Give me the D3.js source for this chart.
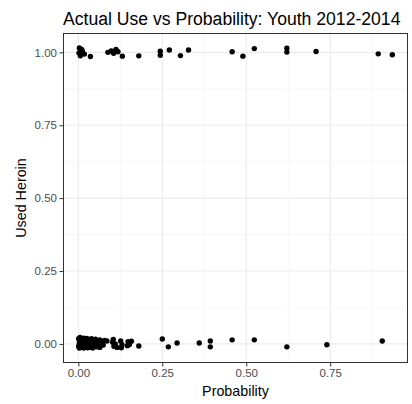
<!DOCTYPE html>
<html>
<head>
<meta charset="utf-8">
<script src="https://cdn.jsdelivr.net/npm/d3@7"></script>
<style>
  body { margin: 0; background: #fff; }
  text { font-family: "Liberation Sans", Arial, sans-serif; }
  .x-axis path, .y-axis path { display: none; }
  .x-axis line, .y-axis line { stroke: #333333; }
  .x-axis text, .y-axis text { fill: #4d4d4d; font-size: 11.5px; }
</style>
</head>
<body>
<div id="scatter"></div>
<script>
// ACTUAL USE VS PROBABILITY SCATTER

// Points that used heroin (jittered around 1)
var probUsed = [0.003, 0.008, 0.002, 0.012, 0.006, 0.018, 0.010, 0.036,
  0.088, 0.098, 0.105, 0.112, 0.118, 0.131, 0.180,
  0.244, 0.244, 0.271, 0.304, 0.328,
  0.458, 0.490, 0.524, 0.621, 0.621, 0.708, 0.893, 0.935];
var yUsed = [1.015, 1.006, 0.998, 1.003, 0.988, 0.994, 1.010, 0.986,
  1.000, 1.005, 0.997, 1.010, 1.002, 0.987, 0.988,
  1.004, 0.990, 1.008, 0.989, 1.008,
  1.002, 0.987, 1.013, 1.014, 1.001, 1.003, 0.995, 0.992];

// Points that did not use heroin (jittered around 0)
var probNotUsed = [0.001, 0.001, 0.003, 0.003, 0.005, 0.005, 0.008, 0.008, 0.010, 0.010,
  0.013, 0.013, 0.016, 0.016, 0.019, 0.019, 0.022, 0.022, 0.025, 0.025,
  0.028, 0.028, 0.031, 0.031, 0.035, 0.035, 0.039, 0.039, 0.043, 0.043,
  0.047, 0.047, 0.051, 0.051, 0.055, 0.055, 0.060, 0.060, 0.064, 0.064,
  0.072, 0.078, 0.074, 0.085,
  0.102, 0.106, 0.110, 0.115, 0.104,
  0.126, 0.130, 0.128,
  0.148, 0.152, 0.158, 0.146,
  0.180, 0.250, 0.268, 0.294, 0.360, 0.393, 0.393, 0.458, 0.524, 0.621, 0.740, 0.905];
var yNotUsed = [0.018, -0.008, 0.004, -0.014, 0.022, -0.002, 0.010, -0.012, 0.016, 0.000,
  -0.006, 0.012, 0.020, -0.014, 0.006, -0.010, 0.014, -0.004, 0.002, 0.019,
  -0.013, 0.009, 0.015, -0.007, 0.004, -0.012, 0.018, -0.002, 0.008, -0.014,
  0.012, -0.006, 0.002, 0.016, -0.010, 0.006, 0.010, -0.004, 0.014, -0.012,
  0.008, 0.012, -0.004, 0.010,
  0.006, -0.008, 0.000, -0.012, 0.015,
  0.010, -0.003, -0.013,
  0.008, -0.002, 0.009, -0.006,
  -0.007, 0.017, -0.010, 0.003, 0.003, 0.010, -0.010, 0.014, 0.014, -0.010, -0.003, 0.010];

var xTicks = [0, 0.25, 0.5, 0.75];
var yTicks = [0, 0.25, 0.5, 0.75, 1];

// 1. Set up the SVG area
var svgWidth = 412;
var svgHeight = 404;

var margin = {
  top: 33,
  right: 4,
  bottom: 41,
  left: 63
};

var width = svgWidth - margin.left - margin.right;
var height = svgHeight - margin.top - margin.bottom;

var svg = d3.select("#scatter")
  .append("svg")
  .attr("width", svgWidth)
  .attr("height", svgHeight);

var chartGroup = svg.append("g")
  .attr("transform", `translate(${margin.left}, ${margin.top})`);

// 2. Combine the arrays into one table
var points = [];
probUsed.forEach(function (p, i) {
  points.push({ prob: p, used: yUsed[i] });
});
probNotUsed.forEach(function (p, i) {
  points.push({ prob: p, used: yNotUsed[i] });
});

// ggplot style 5% expansion
function expand(ext) {
  var pad = (ext[1] - ext[0]) * 0.05;
  return [ext[0] - pad, ext[1] + pad];
}

var xLinearScale = d3.scaleLinear()
  .domain(expand(d3.extent(points, d => d.prob)))
  .range([0, width]);

var yLinearScale = d3.scaleLinear()
  .domain(expand(d3.extent(points, d => d.used)))
  .range([height, 0]);

// 3. Grid lines (minor then major)
var xMinor = xTicks.map(d => d + 0.125).filter(d => d < xLinearScale.domain()[1]);
var yMinor = yTicks.slice(0, -1).map(d => d + 0.125);

chartGroup.selectAll(".xminor")
  .data(xMinor)
  .enter()
  .append("line")
  .attr("x1", d => xLinearScale(d))
  .attr("x2", d => xLinearScale(d))
  .attr("y1", 0)
  .attr("y2", height)
  .attr("stroke", "#f2f2f2")
  .attr("stroke-width", 0.6);

chartGroup.selectAll(".yminor")
  .data(yMinor)
  .enter()
  .append("line")
  .attr("x1", 0)
  .attr("x2", width)
  .attr("y1", d => yLinearScale(d))
  .attr("y2", d => yLinearScale(d))
  .attr("stroke", "#f2f2f2")
  .attr("stroke-width", 0.6);

chartGroup.selectAll(".xmajor")
  .data(xTicks)
  .enter()
  .append("line")
  .attr("x1", d => xLinearScale(d))
  .attr("x2", d => xLinearScale(d))
  .attr("y1", 0)
  .attr("y2", height)
  .attr("stroke", "#ebebeb")
  .attr("stroke-width", 1.1);

chartGroup.selectAll(".ymajor")
  .data(yTicks)
  .enter()
  .append("line")
  .attr("x1", 0)
  .attr("x2", width)
  .attr("y1", d => yLinearScale(d))
  .attr("y2", d => yLinearScale(d))
  .attr("stroke", "#ebebeb")
  .attr("stroke-width", 1.1);

// 4. Points
chartGroup.selectAll("circle")
  .data(points)
  .enter()
  .append("circle")
  .attr("cx", d => xLinearScale(d.prob))
  .attr("cy", d => yLinearScale(d.used))
  .attr("r", 2.7)
  .attr("fill", "#000");

// Panel border
chartGroup.append("rect")
  .attr("x", 0.5)
  .attr("y", 0.5)
  .attr("width", width - 1)
  .attr("height", height - 1)
  .attr("fill", "none")
  .attr("stroke", "#333333")
  .attr("stroke-width", 1);

// 5. Axes
var bottomAxis = d3.axisBottom(xLinearScale)
  .tickValues(xTicks)
  .tickFormat(d3.format(".2f"))
  .tickSizeInner(3.5)
  .tickPadding(2.5);

var leftAxis = d3.axisLeft(yLinearScale)
  .tickValues(yTicks)
  .tickFormat(d3.format(".2f"))
  .tickSizeInner(3.5)
  .tickPadding(2.5);

chartGroup.append("g")
  .classed("x-axis", true)
  .attr("transform", `translate(0, ${height})`)
  .call(bottomAxis);

chartGroup.append("g")
  .classed("y-axis", true)
  .call(leftAxis);

// 6. Labels
svg.append("text")
  .attr("x", margin.left)
  .attr("y", 24.5)
  .attr("font-size", "17.6px")
  .attr("fill", "#000")
  .text("Actual Use vs Probability: Youth 2012-2014");

svg.append("text")
  .attr("x", margin.left + width / 2)
  .attr("y", 395.5)
  .attr("text-anchor", "middle")
  .attr("font-size", "14.3px")
  .attr("fill", "#000")
  .text("Probability");

svg.append("text")
  .attr("transform", `translate(26, ${margin.top + height / 2}) rotate(-90)`)
  .attr("text-anchor", "middle")
  .attr("font-size", "14.3px")
  .attr("fill", "#000")
  .text("Used Heroin");
</script>
</body>
</html>
